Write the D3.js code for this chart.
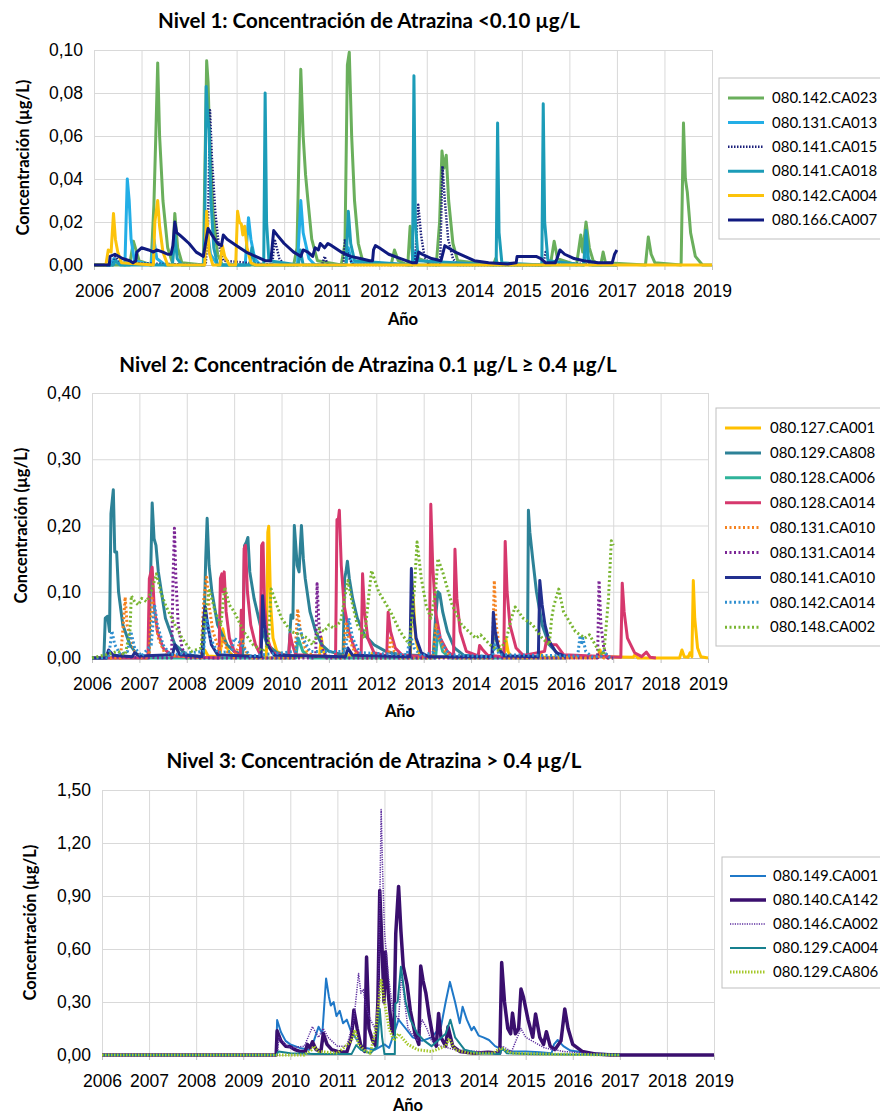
<!DOCTYPE html>
<html>
<head>
<meta charset="utf-8">
<script src="https://cdn.jsdelivr.net/npm/d3@7"></script>
<style>
  body { margin: 0; background: #fff; }
  svg { font-family: "Lato", "Open Sans", sans-serif; }
</style>
</head>
<body>
<svg id="chart" width="880" height="1117"></svg>
<script>
// tick labels
const years = [2006, 2007, 2008, 2009, 2010, 2011, 2012, 2013, 2014, 2015, 2016, 2017, 2018, 2019];
const yTicks1 = [0, 0.02, 0.04, 0.06, 0.08, 0.10];
const yTicks2 = [0, 0.10, 0.20, 0.30, 0.40];
const yTicks3 = [0, 0.30, 0.60, 0.90, 1.20, 1.50];

// ---- Nivel 1 series: [año, µg/L]
const n1_142_CA023 = [[2006.0,0],[2006.75,0],[2006.83,0.011],[2006.95,0.002],[2007.2,0],[2007.26,0.028],[2007.3,0.06],[2007.34,0.094],[2007.38,0.06],[2007.45,0.03],[2007.55,0.008],[2007.65,0.001],[2007.7,0.024],[2007.76,0.008],[2007.85,0.001],[2008.3,0],[2008.37,0.095],[2008.4,0.085],[2008.43,0.06],[2008.5,0.025],[2008.6,0.005],[2008.7,0],[2010.2,0],[2010.27,0.008],[2010.31,0.05],[2010.35,0.091],[2010.4,0.06],[2010.45,0.042],[2010.5,0.03],[2010.58,0.012],[2010.7,0.002],[2011.2,0],[2011.28,0.01],[2011.33,0.093],[2011.37,0.099],[2011.42,0.06],[2011.48,0.03],[2011.56,0.01],[2011.65,0.002],[2012.25,0],[2012.32,0.007],[2012.4,0.002],[2012.6,0],[2012.65,0.018],[2012.7,0.004],[2013.2,0],[2013.27,0.02],[2013.32,0.053],[2013.36,0.045],[2013.41,0.051],[2013.46,0.03],[2013.55,0.01],[2013.65,0.002],[2014.4,0],[2014.45,0.003],[2014.5,0],[2015.6,0],[2015.68,0.011],[2015.75,0.003],[2016.15,0],[2016.24,0.014],[2016.28,0.006],[2016.35,0.02],[2016.42,0.008],[2016.5,0.002],[2016.66,0],[2016.71,0.006],[2016.76,0.001],[2017.6,0],[2017.66,0.013],[2017.72,0.005],[2017.8,0.001],[2018.35,0],[2018.4,0.066],[2018.44,0.04],[2018.48,0.034],[2018.55,0.015],[2018.65,0.004],[2018.8,0],[2019,0]];
const n1_131_CA013 = [[2006.0,0],[2006.35,0],[2006.42,0.003],[2006.5,0.001],[2006.65,0],[2006.7,0.04],[2006.74,0.03],[2006.78,0.012],[2006.85,0.002],[2007.2,0],[2007.26,0.012],[2007.32,0.003],[2007.5,0],[2008.3,0],[2008.36,0.02],[2008.45,0.005],[2008.6,0],[2009.18,0],[2009.25,0.022],[2009.3,0.012],[2009.38,0.003],[2009.5,0],[2010.28,0],[2010.35,0.03],[2010.4,0.015],[2010.45,0.01],[2010.52,0.003],[2010.65,0],[2011.3,0],[2011.35,0.008],[2011.42,0.001],[2012.7,0],[2012.75,0.006],[2012.8,0],[2016.3,0],[2016.35,0.007],[2016.42,0],[2017,0]];
const n1_141_CA015 = [[2006.0,0],[2006.4,0],[2006.45,0.004],[2006.55,0.001],[2008.35,0],[2008.4,0.02],[2008.44,0.072],[2008.48,0.05],[2008.55,0.025],[2008.62,0.01],[2008.72,0.002],[2009.75,0],[2009.8,0.012],[2009.9,0.003],[2010.0,0],[2010.8,0],[2010.85,0.004],[2010.92,0],[2011.25,0],[2011.28,0.012],[2011.35,0.004],[2011.45,0],[2012.75,0],[2012.82,0.028],[2012.88,0.014],[2012.95,0.004],[2013.05,0],[2013.28,0],[2013.33,0.046],[2013.38,0.03],[2013.45,0.012],[2013.55,0.003],[2013.65,0],[2015.45,0],[2015.5,0.006],[2015.58,0.001],[2017,0]];
const n1_141_CA018 = [[2006.0,0],[2006.4,0],[2006.45,0.002],[2006.55,0],[2007.65,0],[2007.7,0.014],[2007.75,0.003],[2007.85,0],[2008.32,0],[2008.36,0.083],[2008.39,0.07],[2008.42,0.063],[2008.46,0.03],[2008.52,0.008],[2008.6,0],[2009.28,0],[2009.32,0.008],[2009.38,0],[2009.57,0],[2009.6,0.08],[2009.63,0.02],[2009.68,0.002],[2010.3,0],[2010.34,0.007],[2010.4,0],[2011.3,0],[2011.35,0.025],[2011.4,0.01],[2011.48,0.002],[2012.7,0],[2012.73,0.088],[2012.76,0.02],[2012.82,0.002],[2014.46,0],[2014.49,0.066],[2014.52,0.015],[2014.58,0.001],[2015.42,0],[2015.45,0.075],[2015.48,0.02],[2015.55,0.002],[2016.3,0],[2016.35,0.016],[2016.4,0.003],[2016.48,0],[2017,0]];
const n1_142_CA004 = [[2006.0,0],[2006.25,0],[2006.3,0.007],[2006.36,0.006],[2006.41,0.024],[2006.45,0.012],[2006.5,0.006],[2006.58,0.001],[2007.25,0],[2007.28,0.02],[2007.34,0.03],[2007.38,0.018],[2007.45,0.006],[2007.55,0],[2008.33,0],[2008.37,0.025],[2008.42,0.006],[2008.5,0],[2008.65,0],[2008.7,0.009],[2008.75,0.004],[2008.85,0],[2008.98,0],[2009.02,0.025],[2009.06,0.02],[2009.1,0.019],[2009.13,0.014],[2009.17,0.018],[2009.22,0.008],[2009.3,0.001],[2009.4,0],[2019,0]];
const n1_166_CA007 = [[2006.0,0],[2006.32,0],[2006.34,0.004],[2006.44,0.005],[2006.6,0.003],[2006.75,0.002],[2006.82,0.001],[2006.88,0.002],[2006.9,0.006],[2007.0,0.008],[2007.15,0.007],[2007.25,0.006],[2007.32,0.007],[2007.45,0.006],[2007.55,0.005],[2007.62,0.005],[2007.66,0.009],[2007.7,0.02],[2007.74,0.015],[2007.8,0.014],[2007.9,0.012],[2008.0,0.01],[2008.15,0.006],[2008.3,0.004],[2008.36,0.012],[2008.4,0.017],[2008.48,0.014],[2008.6,0.01],[2008.68,0.009],[2008.72,0.014],[2008.8,0.012],[2009.0,0.009],[2009.2,0.006],[2009.4,0.004],[2009.6,0.002],[2009.72,0.002],[2009.78,0.016],[2009.85,0.014],[2010.0,0.01],[2010.2,0.006],[2010.35,0.004],[2010.4,0.007],[2010.5,0.006],[2010.6,0.004],[2010.65,0.008],[2010.72,0.007],[2010.76,0.01],[2010.85,0.008],[2010.92,0.01],[2011.0,0.009],[2011.2,0.006],[2011.4,0.004],[2011.6,0.003],[2011.8,0.002],[2011.86,0.002],[2011.88,0.007],[2011.92,0.009],[2012.0,0.008],[2012.2,0.005],[2012.45,0.003],[2012.7,0.001],[2012.78,0.001],[2012.83,0.006],[2012.9,0.005],[2013.1,0.003],[2013.3,0.002],[2013.38,0.009],[2013.45,0.008],[2013.6,0.006],[2013.8,0.004],[2014.0,0.002],[2014.3,0.001],[2014.7,0.0005],[2014.88,0.001],[2014.9,0.004],[2015.05,0.004],[2015.2,0.004],[2015.3,0.004],[2015.4,0.003],[2015.5,0.001],[2015.7,0.001],[2015.74,0.003],[2015.8,0.007],[2015.9,0.005],[2016.1,0.003],[2016.3,0.002],[2016.6,0.001],[2016.9,0.001],[2016.95,0.005],[2017.0,0.007]];

// ---- Nivel 2 series
const n2_127_CA001 = [[2008.0,0],[2008.3,0.002],[2008.38,0.012],[2008.45,0.003],[2008.7,0.002],[2008.76,0.044],[2008.8,0.03],[2008.88,0.01],[2009.0,0.002],[2009.3,0.004],[2009.4,0.001],[2009.68,0.002],[2009.71,0.19],[2009.73,0.199],[2009.77,0.08],[2009.82,0.03],[2009.9,0.01],[2010.1,0.003],[2010.45,0.002],[2010.5,0.009],[2010.56,0.002],[2010.8,0.002],[2010.84,0.031],[2010.88,0.01],[2010.95,0.002],[2011.4,0.001],[2011.44,0.006],[2011.5,0.001],[2011.88,0.001],[2011.92,0.008],[2012.0,0.001],[2012.72,0.001],[2012.75,0.114],[2012.78,0.09],[2012.83,0.03],[2012.9,0.008],[2013.0,0.001],[2014.7,0.001],[2014.73,0.031],[2014.78,0.01],[2014.85,0.001],[2015.42,0.001],[2015.46,0.008],[2015.52,0.001],[2016.68,0.001],[2016.72,0.012],[2016.78,0.002],[2017.42,0.001],[2017.46,0.005],[2017.52,0],[2018.4,0],[2018.45,0.012],[2018.5,0.002],[2018.58,0.001],[2018.62,0.008],[2018.66,0.002],[2018.69,0.117],[2018.72,0.06],[2018.78,0.015],[2018.85,0.002],[2019,0]];
const n2_129_CA808 = [[2006.0,0],[2006.25,0],[2006.28,0.06],[2006.33,0.063],[2006.37,0.04],[2006.4,0.218],[2006.45,0.254],[2006.48,0.16],[2006.52,0.16],[2006.56,0.1],[2006.65,0.05],[2006.8,0.02],[2006.95,0.005],[2007.2,0],[2007.23,0.1],[2007.27,0.234],[2007.31,0.18],[2007.35,0.17],[2007.4,0.13],[2007.55,0.06],[2007.75,0.02],[2008.0,0.005],[2008.35,0.002],[2008.4,0.15],[2008.43,0.211],[2008.47,0.14],[2008.53,0.1],[2008.65,0.05],[2008.85,0.02],[2009.0,0.01],[2009.18,0.005],[2009.22,0.17],[2009.26,0.175],[2009.29,0.182],[2009.33,0.13],[2009.42,0.09],[2009.55,0.05],[2009.7,0.02],[2009.9,0.008],[2010.15,0.003],[2010.2,0.065],[2010.24,0.06],[2010.27,0.2],[2010.3,0.17],[2010.33,0.14],[2010.37,0.13],[2010.42,0.2],[2010.46,0.15],[2010.5,0.12],[2010.6,0.07],[2010.72,0.04],[2010.85,0.02],[2011.0,0.01],[2011.3,0.005],[2011.33,0.12],[2011.36,0.13],[2011.39,0.146],[2011.43,0.12],[2011.5,0.09],[2011.6,0.06],[2011.75,0.035],[2011.95,0.02],[2012.2,0.01],[2012.5,0.005],[2013.2,0.003],[2013.25,0.06],[2013.3,0.1],[2013.34,0.097],[2013.4,0.07],[2013.5,0.04],[2013.65,0.015],[2013.85,0.004],[2014.45,0.002],[2014.48,0.05],[2014.52,0.03],[2014.6,0.01],[2014.7,0.002],[2015.19,0],[2015.21,0.223],[2015.24,0.19],[2015.3,0.15],[2015.38,0.1],[2015.5,0.05],[2015.65,0.02],[2015.85,0.005],[2016.0,0]];
const n2_128_CA006 = [[2006.0,0],[2010.3,0],[2010.35,0.03],[2010.45,0.01],[2010.6,0],[2013.25,0],[2013.3,0.04],[2013.4,0.01],[2013.55,0],[2016.0,0]];
const n2_128_CA014 = [[2006.0,0],[2007.18,0],[2007.21,0.12],[2007.27,0.137],[2007.31,0.08],[2007.38,0.04],[2007.5,0.015],[2007.7,0.003],[2008.68,0],[2008.71,0.12],[2008.74,0.127],[2008.76,0.1],[2008.79,0.13],[2008.83,0.07],[2008.9,0.03],[2009.0,0.01],[2009.13,0.002],[2009.15,0.072],[2009.19,0.03],[2009.21,0.165],[2009.24,0.17],[2009.28,0.1],[2009.35,0.05],[2009.45,0.02],[2009.55,0.005],[2009.58,0.17],[2009.61,0.174],[2009.64,0.08],[2009.7,0.03],[2009.8,0.008],[2010.15,0.003],[2010.18,0.036],[2010.23,0.02],[2010.3,0.005],[2011.14,0.002],[2011.17,0.209],[2011.2,0.21],[2011.22,0.223],[2011.26,0.14],[2011.32,0.08],[2011.42,0.04],[2011.55,0.012],[2011.68,0.003],[2011.71,0.127],[2011.75,0.07],[2011.82,0.03],[2011.95,0.008],[2012.22,0.003],[2012.25,0.069],[2012.3,0.04],[2012.4,0.015],[2012.55,0.004],[2013.12,0.002],[2013.15,0.232],[2013.19,0.14],[2013.25,0.07],[2013.35,0.03],[2013.5,0.01],[2013.63,0.003],[2013.66,0.164],[2013.7,0.09],[2013.77,0.04],[2013.9,0.01],[2014.15,0.003],[2014.18,0.019],[2014.25,0.012],[2014.35,0.004],[2014.69,0.002],[2014.72,0.176],[2014.76,0.1],[2014.82,0.05],[2014.95,0.015],[2015.1,0.004],[2015.55,0.01],[2015.6,0.03],[2015.7,0.02],[2015.8,0.02],[2015.95,0.005],[2017.16,0.001],[2017.19,0.113],[2017.23,0.07],[2017.3,0.03],[2017.45,0.008],[2017.6,0.002],[2017.7,0.009],[2017.78,0.001],[2017.9,0]];
const n2_131_CA010 = [[2006.0,0],[2006.6,0],[2006.66,0.05],[2006.7,0.092],[2006.74,0.05],[2006.8,0.035],[2006.9,0.01],[2007.05,0],[2007.2,0],[2007.27,0.09],[2007.32,0.07],[2007.4,0.03],[2007.55,0.005],[2008.3,0],[2008.36,0.09],[2008.42,0.122],[2008.47,0.08],[2008.55,0.04],[2008.7,0.01],[2008.78,0.03],[2008.85,0.01],[2009.0,0],[2009.15,0.03],[2009.25,0.01],[2009.35,0],[2010.28,0],[2010.34,0.074],[2010.4,0.04],[2010.5,0.015],[2010.65,0.003],[2011.3,0],[2011.36,0.055],[2011.42,0.03],[2011.55,0.008],[2011.7,0],[2012.25,0],[2012.3,0.03],[2012.38,0.01],[2012.5,0],[2013.2,0],[2013.26,0.05],[2013.32,0.03],[2013.45,0.01],[2013.6,0],[2014.45,0],[2014.49,0.117],[2014.53,0.05],[2014.6,0.015],[2014.7,0],[2016.68,0],[2016.72,0.01],[2016.8,0],[2017,0]];
const n2_131_CA014 = [[2006.0,0],[2006.3,0],[2006.35,0.01],[2006.45,0.002],[2007.68,0],[2007.71,0.12],[2007.74,0.196],[2007.77,0.12],[2007.82,0.05],[2007.9,0.015],[2008.0,0],[2010.72,0],[2010.75,0.112],[2010.79,0.05],[2010.86,0.015],[2010.95,0],[2016.67,0],[2016.7,0.117],[2016.74,0.05],[2016.8,0.015],[2016.88,0],[2017,0]];
const n2_141_CA010 = [[2006.0,0],[2006.3,0],[2006.35,0.012],[2006.45,0.004],[2006.85,0.002],[2006.9,0.008],[2007.0,0.003],[2007.7,0.005],[2007.75,0.02],[2007.85,0.005],[2008.32,0.002],[2008.36,0.06],[2008.39,0.077],[2008.44,0.05],[2008.52,0.02],[2008.65,0.005],[2009.57,0.002],[2009.6,0.094],[2009.64,0.05],[2009.7,0.02],[2009.85,0.004],[2011.35,0.002],[2011.4,0.015],[2011.5,0.004],[2012.71,0.002],[2012.74,0.135],[2012.78,0.07],[2012.84,0.03],[2012.95,0.008],[2013.1,0.002],[2014.44,0.002],[2014.47,0.069],[2014.51,0.04],[2014.58,0.015],[2014.7,0.003],[2015.42,0.002],[2015.45,0.117],[2015.5,0.08],[2015.56,0.05],[2015.65,0.025],[2015.8,0.008],[2016.0,0.002]];
const n2_142_CA014 = [[2006.0,0],[2006.35,0],[2006.42,0.041],[2006.48,0.02],[2006.6,0.005],[2006.75,0.01],[2006.82,0.04],[2006.9,0.015],[2007.05,0.003],[2007.25,0.02],[2007.32,0.08],[2007.38,0.05],[2007.5,0.02],[2007.65,0.005],[2008.35,0.01],[2008.42,0.06],[2008.5,0.03],[2008.65,0.008],[2008.95,0.01],[2009.0,0.03],[2009.1,0.025],[2009.2,0.015],[2009.35,0.003],[2010.3,0.01],[2010.36,0.05],[2010.45,0.03],[2010.6,0.01],[2011.35,0.01],[2011.42,0.06],[2011.5,0.03],[2011.65,0.008],[2012.65,0.005],[2012.72,0.035],[2012.8,0.015],[2012.95,0.003],[2013.25,0.01],[2013.3,0.04],[2013.4,0.02],[2013.55,0.005],[2014.45,0.002],[2014.5,0.02],[2014.6,0.005],[2016.25,0.003],[2016.3,0.034],[2016.33,0.02],[2016.36,0.03],[2016.42,0.01],[2016.55,0.002],[2016.75,0.003],[2016.8,0.01],[2016.9,0.002],[2017,0]];
const n2_148_CA002 = [[2006.0,0],[2006.3,0.005],[2006.55,0.01],[2006.7,0.005],[2006.8,0.04],[2006.83,0.094],[2006.9,0.085],[2006.98,0.08],[2007.05,0.09],[2007.15,0.085],[2007.25,0.1],[2007.36,0.127],[2007.45,0.1],[2007.55,0.08],[2007.75,0.05],[2007.9,0.03],[2008.1,0.01],[2008.3,0.015],[2008.4,0.07],[2008.48,0.102],[2008.6,0.07],[2008.72,0.05],[2008.8,0.107],[2008.9,0.08],[2009.0,0.07],[2009.2,0.04],[2009.4,0.02],[2009.6,0.01],[2009.72,0.02],[2009.78,0.104],[2009.9,0.08],[2010.0,0.06],[2010.2,0.04],[2010.4,0.035],[2010.55,0.03],[2010.65,0.02],[2010.72,0.03],[2010.8,0.044],[2010.9,0.04],[2011.0,0.05],[2011.1,0.045],[2011.25,0.055],[2011.33,0.09],[2011.4,0.117],[2011.5,0.08],[2011.6,0.05],[2011.75,0.03],[2011.85,0.1],[2011.9,0.132],[2012.05,0.1],[2012.3,0.07],[2012.5,0.04],[2012.7,0.02],[2012.8,0.1],[2012.86,0.175],[2012.95,0.12],[2013.05,0.08],[2013.15,0.06],[2013.25,0.1],[2013.3,0.15],[2013.4,0.13],[2013.6,0.08],[2013.8,0.05],[2014.1,0.03],[2014.2,0.035],[2014.4,0.02],[2014.6,0.01],[2014.75,0.03],[2014.85,0.06],[2014.93,0.077],[2015.1,0.06],[2015.3,0.05],[2015.5,0.03],[2015.65,0.02],[2015.7,0.06],[2015.75,0.08],[2015.85,0.104],[2015.95,0.07],[2016.2,0.04],[2016.4,0.03],[2016.5,0.035],[2016.7,0.01],[2016.8,0.005],[2016.9,0.09],[2016.96,0.177],[2017.0,0.17]];

// ---- Nivel 3 series
const n3_149_CA001 = [[2006.0,0],[2009.7,0],[2009.72,0.198],[2009.8,0.13],[2009.9,0.08],[2010.0,0.06],[2010.2,0.04],[2010.4,0.03],[2010.5,0.08],[2010.6,0.16],[2010.68,0.12],[2010.76,0.433],[2010.82,0.33],[2010.86,0.28],[2010.92,0.3],[2010.98,0.22],[2011.05,0.25],[2011.12,0.18],[2011.2,0.2],[2011.28,0.14],[2011.38,0.1],[2011.48,0.06],[2011.6,0.04],[2011.8,0.03],[2012.0,0.06],[2012.1,0.04],[2012.3,0.2],[2012.45,0.15],[2012.6,0.1],[2012.8,0.08],[2013.0,0.1],[2013.2,0.16],[2013.3,0.3],[2013.39,0.414],[2013.5,0.3],[2013.6,0.18],[2013.66,0.273],[2013.75,0.2],[2013.85,0.14],[2013.9,0.16],[2014.0,0.11],[2014.1,0.1],[2014.22,0.085],[2014.35,0.05],[2014.5,0.03],[2014.7,0.02],[2015.0,0.02],[2015.3,0.015],[2015.55,0.01],[2015.6,0.06],[2015.68,0.085],[2015.8,0.05],[2015.95,0.025],[2016.2,0.015],[2016.5,0.008],[2016.8,0.005],[2017.0,0.003]];
const n3_140_CA142 = [[2006.0,0],[2009.7,0],[2009.72,0.137],[2009.8,0.08],[2009.9,0.05],[2010.0,0.047],[2010.1,0.03],[2010.2,0.02],[2010.32,0.02],[2010.36,0.06],[2010.42,0.04],[2010.47,0.075],[2010.55,0.03],[2010.65,0.02],[2010.7,0.122],[2010.78,0.06],[2010.88,0.03],[2011.0,0.02],[2011.2,0.015],[2011.3,0.1],[2011.35,0.254],[2011.42,0.15],[2011.5,0.05],[2011.58,0.02],[2011.62,0.555],[2011.67,0.15],[2011.75,0.08],[2011.82,0.05],[2011.86,0.3],[2011.9,0.931],[2011.95,0.6],[2011.99,0.3],[2012.02,0.583],[2012.08,0.35],[2012.15,0.15],[2012.2,0.12],[2012.24,0.687],[2012.3,0.954],[2012.35,0.7],[2012.4,0.5],[2012.48,0.4],[2012.55,0.25],[2012.65,0.12],[2012.73,0.06],[2012.77,0.504],[2012.82,0.42],[2012.88,0.35],[2012.95,0.22],[2013.03,0.1],[2013.1,0.05],[2013.15,0.235],[2013.2,0.1],[2013.3,0.05],[2013.35,0.16],[2013.45,0.05],[2013.6,0.02],[2013.9,0.01],[2014.2,0.015],[2014.45,0.01],[2014.49,0.523],[2014.55,0.3],[2014.62,0.15],[2014.68,0.12],[2014.72,0.237],[2014.78,0.12],[2014.85,0.15],[2014.9,0.373],[2014.95,0.33],[2015.05,0.2],[2015.15,0.1],[2015.21,0.232],[2015.3,0.1],[2015.38,0.06],[2015.44,0.132],[2015.52,0.05],[2015.62,0.03],[2015.75,0.08],[2015.83,0.26],[2015.9,0.15],[2016.0,0.06],[2016.2,0.02],[2016.5,0.005],[2016.8,0],[2019.0,0]];
const n3_146_CA002 = [[2006.0,0],[2009.72,0],[2009.76,0.1],[2009.9,0.06],[2010.0,0.04],[2010.3,0.05],[2010.47,0.16],[2010.6,0.1],[2010.7,0.15],[2010.8,0.1],[2011.0,0.05],[2011.2,0.05],[2011.35,0.2],[2011.45,0.461],[2011.5,0.35],[2011.55,0.37],[2011.6,0.28],[2011.7,0.2],[2011.8,0.15],[2011.87,0.3],[2011.93,1.389],[2011.96,1.05],[2012.0,0.7],[2012.08,0.45],[2012.18,0.25],[2012.3,0.2],[2012.36,0.45],[2012.5,0.15],[2012.7,0.08],[2012.8,0.2],[2012.9,0.15],[2013.0,0.08],[2013.2,0.05],[2013.5,0.03],[2014.0,0.02],[2014.4,0.01],[2014.5,0.05],[2014.7,0.02],[2014.9,0.15],[2015.0,0.1],[2015.4,0.04],[2015.8,0.02],[2016.3,0.01],[2017.0,0]];
const n3_129_CA004 = [[2006.0,0],[2009.7,0],[2009.75,0.02],[2010.0,0.01],[2010.5,0.005],[2011.3,0.005],[2011.4,0.056],[2011.5,0.03],[2011.7,0.01],[2011.85,0.05],[2011.9,0.26],[2011.95,0.1],[2012.0,0.005],[2012.22,0.005],[2012.23,0.29],[2012.28,0.3],[2012.35,0.5],[2012.45,0.3],[2012.55,0.2],[2012.7,0.12],[2012.85,0.08],[2013.0,0.05],[2013.3,0.12],[2013.4,0.2],[2013.5,0.1],[2013.7,0.03],[2014.0,0.01],[2014.45,0.005],[2014.5,0.04],[2014.6,0.01],[2015.0,0.005],[2016.0,0.003],[2017.0,0]];
const n3_129_CA806 = [[2006.0,0],[2010.3,0],[2010.45,0.03],[2010.5,0.05],[2010.6,0.02],[2011.0,0.01],[2011.3,0.08],[2011.37,0.141],[2011.45,0.06],[2011.6,0.02],[2011.7,0.01],[2011.82,0.15],[2011.93,0.423],[2012.0,0.3],[2012.1,0.15],[2012.2,0.08],[2012.3,0.12],[2012.5,0.06],[2012.7,0.03],[2013.0,0.02],[2013.3,0.05],[2013.37,0.094],[2013.5,0.03],[2013.8,0.01],[2014.3,0.01],[2014.48,0.04],[2014.7,0.01],[2015.5,0.005],[2017.0,0]];

// styles (kept apart from the data)
const panels = [
    {
        title: "Nivel 1: Concentración de Atrazina <0.10 µg/L",
        left: 94, right: 712, top: 50, bottom: 265, yMax: 0.10, yTicks: yTicks1,
        titleX: 369, titleY: 28, anioY: 325, yLabelX: 29,
        legend: { x: 719, y: 78, h: 161, y0: 98, step: 24.4, sx: 728, tx: 772 },
        series: [
            { name: "080.142.CA023", data: n1_142_CA023, color: "#6aaf5c", width: 3 },
            { name: "080.131.CA013", data: n1_131_CA013, color: "#23aee6", width: 3 },
            { name: "080.141.CA015", data: n1_141_CA015, color: "#1b1f7a", width: 2.5, dash: "1.5,1.5" },
            { name: "080.141.CA018", data: n1_141_CA018, color: "#1c9cb8", width: 3 },
            { name: "080.142.CA004", data: n1_142_CA004, color: "#fcc30b", width: 3 },
            { name: "080.166.CA007", data: n1_166_CA007, color: "#101a80", width: 3 }
        ]
    },
    {
        title: "Nivel 2: Concentración de Atrazina 0.1 µg/L ≥ 0.4 µg/L",
        left: 92, right: 708, top: 393, bottom: 658, yMax: 0.40, yTicks: yTicks2,
        titleX: 368, titleY: 372, anioY: 717, yLabelX: 27,
        legend: { x: 716, y: 408, h: 238, y0: 428, step: 24.9, sx: 725, tx: 770 },
        series: [
            { name: "080.127.CA001", data: n2_127_CA001, color: "#ffc000", width: 3 },
            { name: "080.129.CA808", data: n2_129_CA808, color: "#2d8297", width: 3 },
            { name: "080.128.CA006", data: n2_128_CA006, color: "#2fb39a", width: 3 },
            { name: "080.128.CA014", data: n2_128_CA014, color: "#d6386d", width: 3 },
            { name: "080.131.CA010", data: n2_131_CA010, color: "#f5821f", width: 3, dash: "2,2.5" },
            { name: "080.131.CA014", data: n2_131_CA014, color: "#7b2595", width: 3, dash: "2,2.5" },
            { name: "080.141.CA010", data: n2_141_CA010, color: "#22308f", width: 3 },
            { name: "080.142.CA014", data: n2_142_CA014, color: "#2f8fd0", width: 3, dash: "2,2.5" },
            { name: "080.148.CA002", data: n2_148_CA002, color: "#79b531", width: 3, dash: "2,2.5" }
        ]
    },
    {
        title: "Nivel 3: Concentración de Atrazina > 0.4 µg/L",
        left: 102, right: 714, top: 790, bottom: 1055, yMax: 1.50, yTicks: yTicks3,
        titleX: 374, titleY: 768, anioY: 1111, yLabelX: 36,
        legend: { x: 722, y: 857, h: 131, y0: 876, step: 24, sx: 730, tx: 773 },
        series: [
            { name: "080.149.CA001", data: n3_149_CA001, color: "#1f78c8", width: 2 },
            { name: "080.140.CA142", data: n3_140_CA142, color: "#3a0f6e", width: 3.5 },
            { name: "080.146.CA002", data: n3_146_CA002, color: "#5b2c9e", width: 1.5, dash: "1.2,1.2" },
            { name: "080.129.CA004", data: n3_129_CA004, color: "#17808f", width: 2 },
            { name: "080.129.CA806", data: n3_129_CA806, color: "#a5c82a", width: 3, dash: "1.5,1.5" }
        ]
    }
];

const locale = d3.formatLocale({ decimal: ",", thousands: ".", grouping: [3], currency: ["", "€"] });
const fmt2 = locale.format(".2f");

document.addEventListener('DOMContentLoaded', function () {
    const svg = d3.select('#chart');
    panels.forEach(p => drawPanel(svg, p));
});

function drawPanel(svg, p) {
    const xScale = d3.scaleLinear().domain([2006, 2019]).range([p.left, p.right]);
    const yScale = d3.scaleLinear().domain([0, p.yMax]).range([p.bottom, p.top]);
    const g = svg.append('g');

    // horizontal gridlines + y labels
    const yAxis = d3.axisLeft(yScale).tickValues(p.yTicks).tickFormat(fmt2)
        .tickSize(-(p.right - p.left)).tickPadding(11);
    g.append('g').attr('transform', `translate(${p.left},0)`).call(yAxis)
        .call(a => a.select('.domain').remove())
        .call(a => a.selectAll('line').attr('stroke', '#d9d9d9'))
        .call(a => a.selectAll('text').attr('fill', '#000').style('font-size', '17.5px'));

    // vertical gridlines
    const xGrid = d3.axisBottom(xScale).tickValues(years).tickSize(-(p.bottom - p.top)).tickFormat('');
    g.append('g').attr('transform', `translate(0,${p.bottom})`).call(xGrid)
        .call(a => a.select('.domain').remove())
        .call(a => a.selectAll('line').attr('stroke', '#d9d9d9'));

    // x axis line with small ticks and labels
    const xAxis = d3.axisBottom(xScale).tickValues(years).tickFormat(d3.format('d'))
        .tickSize(5).tickSizeOuter(0).tickPadding(15);
    g.append('g').attr('transform', `translate(0,${p.bottom})`).call(xAxis)
        .call(a => a.select('.domain').attr('stroke', '#bfbfbf'))
        .call(a => a.selectAll('line').attr('stroke', '#bfbfbf'))
        .call(a => a.selectAll('text').attr('fill', '#000').style('font-size', '17.5px'));

    // series
    const line = d3.line().x(d => xScale(d[0])).y(d => yScale(d[1]));
    p.series.forEach(s => {
        g.append('path')
            .datum(s.data)
            .attr('d', line)
            .attr('fill', 'none')
            .attr('stroke', s.color)
            .attr('stroke-width', s.width)
            .attr('stroke-linejoin', 'round')
            .attr('stroke-dasharray', s.dash || null);
    });

    // titles
    g.append('text')
        .attr('x', p.titleX).attr('y', p.titleY)
        .attr('text-anchor', 'middle')
        .style('font-size', '20.5px').style('font-weight', 'bold')
        .text(p.title);
    g.append('text')
        .attr('x', (p.left + p.right) / 2).attr('y', p.anioY)
        .attr('text-anchor', 'middle')
        .style('font-size', '16.5px').style('font-weight', 'bold')
        .text('Año');
    g.append('text')
        .attr('transform', `translate(${p.yLabelX},${(p.top + p.bottom) / 2}) rotate(-90)`)
        .attr('text-anchor', 'middle')
        .style('font-size', '16.5px').style('font-weight', 'bold')
        .text('Concentración (µg/L)');

    // legend
    const L = p.legend;
    g.append('rect')
        .attr('x', L.x).attr('y', L.y).attr('width', 180).attr('height', L.h)
        .attr('fill', '#fff').attr('stroke', '#bfbfbf');
    p.series.forEach((s, i) => {
        const yy = L.y0 + i * L.step;
        g.append('line')
            .attr('x1', L.sx).attr('x2', L.sx + 36).attr('y1', yy).attr('y2', yy)
            .attr('stroke', s.color).attr('stroke-width', s.width)
            .attr('stroke-dasharray', s.dash || null);
        g.append('text')
            .attr('x', L.tx).attr('y', yy).attr('dy', '0.35em')
            .style('font-size', '15px')
            .text(s.name);
    });
}
</script>
</body>
</html>
